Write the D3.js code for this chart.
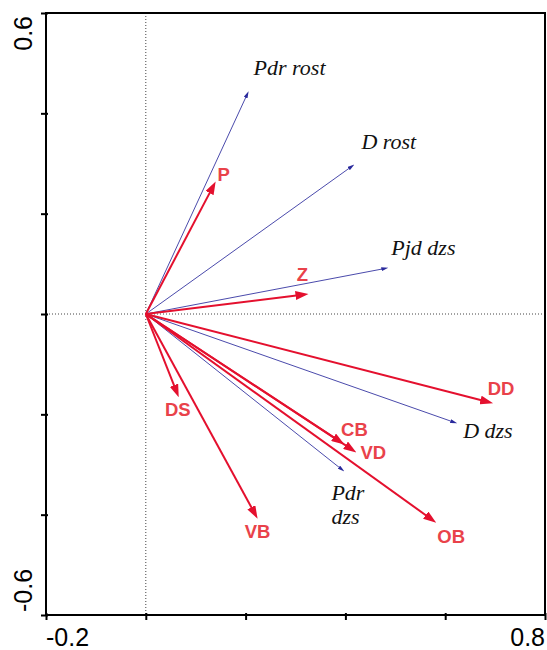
<!DOCTYPE html>
<html>
<head>
<meta charset="utf-8">
<script src="https://cdn.jsdelivr.net/npm/d3@7"></script>
<style>
  html, body { margin: 0; padding: 0; background: #fff; }
  svg { display: block; }
</style>
</head>
<body>
<svg id="chart" width="547" height="650"></svg>
<script>
// ---- data ----
const speciesNames = ["P", "Z", "DD", "DS", "VB", "CB", "VD", "OB"];
const speciesX = [0.140, 0.326, 0.696, 0.066, 0.224, 0.398, 0.422, 0.582];
const speciesY = [0.264, 0.040, -0.178, -0.166, -0.408, -0.260, -0.276, -0.416];

const envNames = ["Pdr rost", "D rost", "Pjd dzs", "D dzs", "Pdr dzs"];
const envX = [0.206, 0.418, 0.486, 0.624, 0.398];
const envY = [0.444, 0.298, 0.092, -0.218, -0.314];

const xTicks = [-0.2, 0, 0.2, 0.4, 0.6, 0.8];
const yTicks = [-0.6, -0.4, -0.2, 0, 0.2, 0.4, 0.6];
const xTickLabels = ["-0.2", "0.8"];
const yTickLabels = ["-0.6", "0.6"];

// ---- layout / style (kept separate from data) ----
const envLabelOffsets = {
  "Pdr rost": [[5, -16]],
  "D rost": [[7, -16]],
  "Pjd dzs": [[3, -13]],
  "D dzs": [[6, 15]],
  "Pdr dzs": [[-13, 28], [-13, 52]]
};
const speciesLabelOffsets = {
  "P": [8, -7], "Z": [-6, -20], "DD": [8, -15], "DS": [-1, 12],
  "VB": [0, 13], "CB": [10, -15], "VD": [17, 0], "OB": [15, 14]
};

const svg = d3.select("#chart");
const x = d3.scaleLinear().domain([-0.2, 0.8]).range([46, 545]);
const y = d3.scaleLinear().domain([-0.6, 0.6]).range([615, 13]);

const RED = "#e4102e";
const RED_TXT = "#e9424a";
const BLUE = "#2a2a9c";

// markers
const defs = svg.append("defs");
defs.append("marker")
  .attr("id", "headRed").attr("viewBox", "0 0 13 9")
  .attr("refX", 13).attr("refY", 4.5)
  .attr("markerWidth", 13).attr("markerHeight", 9)
  .attr("markerUnits", "userSpaceOnUse").attr("orient", "auto")
  .append("path").attr("d", "M0,0 L13,4.5 L0,9 Z").attr("fill", RED);
defs.append("marker")
  .attr("id", "headBlue").attr("viewBox", "0 0 7 4")
  .attr("refX", 7).attr("refY", 2)
  .attr("markerWidth", 7).attr("markerHeight", 4)
  .attr("markerUnits", "userSpaceOnUse").attr("orient", "auto")
  .append("path").attr("d", "M0,0 L7,2 L0,4 Z").attr("fill", BLUE);

// zero lines (dotted)
svg.append("line")
  .attr("x1", x(0)).attr("x2", x(0)).attr("y1", y(0.6)).attr("y2", y(-0.6))
  .attr("stroke", "#444").attr("stroke-width", 1).attr("stroke-dasharray", "1,2");
svg.append("line")
  .attr("x1", x(-0.2)).attr("x2", x(0.8)).attr("y1", y(0)).attr("y2", y(0))
  .attr("stroke", "#444").attr("stroke-width", 1).attr("stroke-dasharray", "1,2");

// axes
const xAxis = d3.axisBottom(x).tickValues(xTicks).tickSizeInner(5).tickSizeOuter(0).tickFormat("");
const yAxis = d3.axisLeft(y).tickValues(yTicks).tickSizeInner(5).tickSizeOuter(0).tickFormat("");
const gx = svg.append("g").attr("transform", `translate(0,${y(-0.6)})`).call(xAxis);
const gy = svg.append("g").attr("transform", `translate(${x(-0.2)},0)`).call(yAxis);
[gx, gy].forEach(g => {
  g.select(".domain").remove();
  g.selectAll(".tick line").attr("stroke", "#000").attr("stroke-width", 2);
});
gx.selectAll(".tick line").attr("y1", -2);
gy.selectAll(".tick line").attr("x1", 2);

// frame
svg.append("rect")
  .attr("x", x(-0.2)).attr("y", y(0.6))
  .attr("width", x(0.8) - x(-0.2)).attr("height", y(-0.6) - y(0.6))
  .attr("fill", "none").attr("stroke", "#000").attr("stroke-width", 2);

// tick labels
svg.append("text").text(xTickLabels[0])
  .attr("x", x(-0.2)).attr("y", 646)
  .attr("font-family", "Liberation Sans, Arial, sans-serif").attr("font-size", 25)
  .attr("text-anchor", "start");
svg.append("text").text(xTickLabels[1])
  .attr("x", x(0.8)).attr("y", 646)
  .attr("font-family", "Liberation Sans, Arial, sans-serif").attr("font-size", 25)
  .attr("text-anchor", "end");
svg.append("text").text(yTickLabels[0])
  .attr("transform", `translate(32,${y(-0.6) - 3}) rotate(-90)`)
  .attr("font-family", "Liberation Sans, Arial, sans-serif").attr("font-size", 25)
  .attr("text-anchor", "start");
svg.append("text").text(yTickLabels[1])
  .attr("transform", `translate(32,${y(0.6) + 3}) rotate(-90)`)
  .attr("font-family", "Liberation Sans, Arial, sans-serif").attr("font-size", 25)
  .attr("text-anchor", "end");

// shorten helper
function shorten(x0, y0, x1, y1, d) {
  const L = Math.hypot(x1 - x0, y1 - y0);
  return [x1 - (x1 - x0) * d / L, y1 - (y1 - y0) * d / L];
}

// environmental vectors (blue)
const envData = envNames.map((n, i) => ({ name: n, vx: envX[i], vy: envY[i] }));
const gEnv = svg.append("g");
envData.forEach(d => {
  const tx = x(d.vx), ty = y(d.vy);
  const [ex, ey] = shorten(x(0), y(0), tx, ty, 3);
  gEnv.append("line")
    .attr("x1", x(0)).attr("y1", y(0)).attr("x2", ex).attr("y2", ey)
    .attr("stroke", BLUE).attr("stroke-width", 1).attr("stroke-opacity", 0.85);
  gEnv.append("path")
    .attr("d", `M${x(0)},${y(0)} L${tx},${ty}`)
    .attr("stroke", "none").attr("fill", "none")
    .attr("marker-end", "url(#headBlue)");
  const parts = d.name === "Pdr dzs" ? ["Pdr", "dzs"] : [d.name];
  parts.forEach((p, k) => {
    const off = envLabelOffsets[d.name][k];
    gEnv.append("text").text(p)
      .attr("x", tx + off[0]).attr("y", ty + off[1])
      .attr("font-family", "Liberation Serif, Times New Roman, serif")
      .attr("font-style", "italic").attr("font-size", 22)
      .attr("fill", "#111");
  });
});

// species vectors (red)
const spData = speciesNames.map((n, i) => ({ name: n, vx: speciesX[i], vy: speciesY[i] }));
const gSp = svg.append("g");
spData.forEach(d => {
  const tx = x(d.vx), ty = y(d.vy);
  const [ex, ey] = shorten(x(0), y(0), tx, ty, 6);
  gSp.append("line")
    .attr("x1", x(0)).attr("y1", y(0)).attr("x2", ex).attr("y2", ey)
    .attr("stroke", RED).attr("stroke-width", 2);
  gSp.append("path")
    .attr("d", `M${x(0)},${y(0)} L${tx},${ty}`)
    .attr("stroke", "none").attr("fill", "none")
    .attr("marker-end", "url(#headRed)");
  const off = speciesLabelOffsets[d.name];
  gSp.append("text").text(d.name)
    .attr("x", tx + off[0]).attr("y", ty + off[1])
    .attr("dy", "0.36em")
    .attr("text-anchor", "middle")
    .attr("font-family", "Liberation Sans, Arial, sans-serif")
    .attr("font-weight", "bold").attr("font-size", 18.5)
    .attr("fill", RED_TXT);
});
</script>
</body>
</html>
